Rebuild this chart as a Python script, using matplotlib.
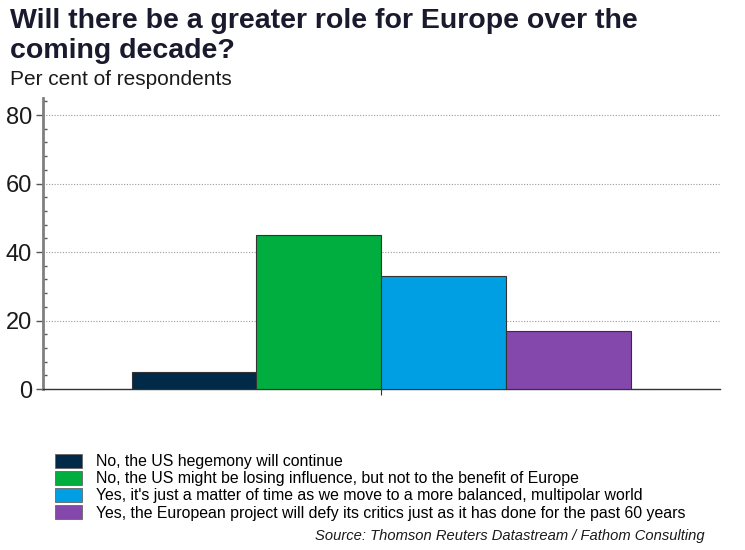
import matplotlib.pyplot as plt
from matplotlib.ticker import MultipleLocator
from matplotlib.patches import Patch

plt.rcParams['font.family'] = ['Liberation Sans', 'DejaVu Sans']

# Data
answers = [
    "No, the US hegemony will continue",
    "No, the US might be losing influence, but not to the benefit of Europe",
    "Yes, it's just a matter of time as we move to a more balanced, multipolar world",
    "Yes, the European project will defy its critics just as it has done for the past 60 years",
]
shares = [5, 45, 33, 17]
colors = ["#002a47", "#00ad3f", "#009fe3", "#8447ab"]

fig = plt.figure(figsize=(7.45, 5.5), dpi=100)
ax = fig.add_axes([0.0577, 0.2927, 0.9083, 0.5293])

# grouped bars around a single category at x=0
n = len(shares)
w = 0.738 / n
for i, (v, c) in enumerate(zip(shares, colors)):
    ax.bar(-0.369 + w * (i + 0.5), v, width=w, color=c, edgecolor="#333333", linewidth=0.8, zorder=3)

ax.set_xlim(-0.5, 0.5)
ax.set_ylim(0, 85)
ax.yaxis.set_major_locator(MultipleLocator(20))
ax.yaxis.set_minor_locator(MultipleLocator(4))
ax.set_xticks([0])
ax.set_xticklabels([""])
ax.tick_params(axis="x", length=4, color="#333333")
ax.tick_params(axis="y", which="major", length=5, width=1, color="#555555", labelsize=17,
               labelcolor="#1a1a1a", direction="out", pad=3)
ax.tick_params(axis="y", which="minor", length=3, width=1, color="#555555", direction="in")

ax.grid(axis="y", linestyle=(0, (1, 1.5)), color="#999999", linewidth=0.8, zorder=0)
for s in ["top", "right"]:
    ax.spines[s].set_visible(False)
ax.spines["left"].set_color("#808080")
ax.spines["left"].set_linewidth(2)
ax.spines["bottom"].set_color("#333333")
ax.spines["bottom"].set_linewidth(1)

# titles
fig.text(0.013, 0.985, "Will there be a greater role for Europe over the\ncoming decade?",
         fontsize=20.5, fontweight="bold", color="#1a1a2e", va="top", ha="left", linespacing=1.2)
fig.text(0.013, 0.838, "Per cent of respondents", fontsize=15, color="#1a1a1a", va="bottom", ha="left")

# legend
handles = [Patch(facecolor=c, edgecolor="#666666", linewidth=0.6) for c in colors]
fig.legend(handles, answers, loc="upper left", bbox_to_anchor=(0.074, 0.175), frameon=False,
           fontsize=11.4, handlelength=1.7, handleheight=1.0, handletextpad=0.9,
           labelspacing=0.1, borderpad=0, borderaxespad=0)

fig.text(0.946, 0.012, "Source: Thomson Reuters Datastream / Fathom Consulting",
         fontsize=10.6, style="italic", ha="right", va="bottom", color="#1a1a1a")

fig.savefig("out.png", dpi=100)
